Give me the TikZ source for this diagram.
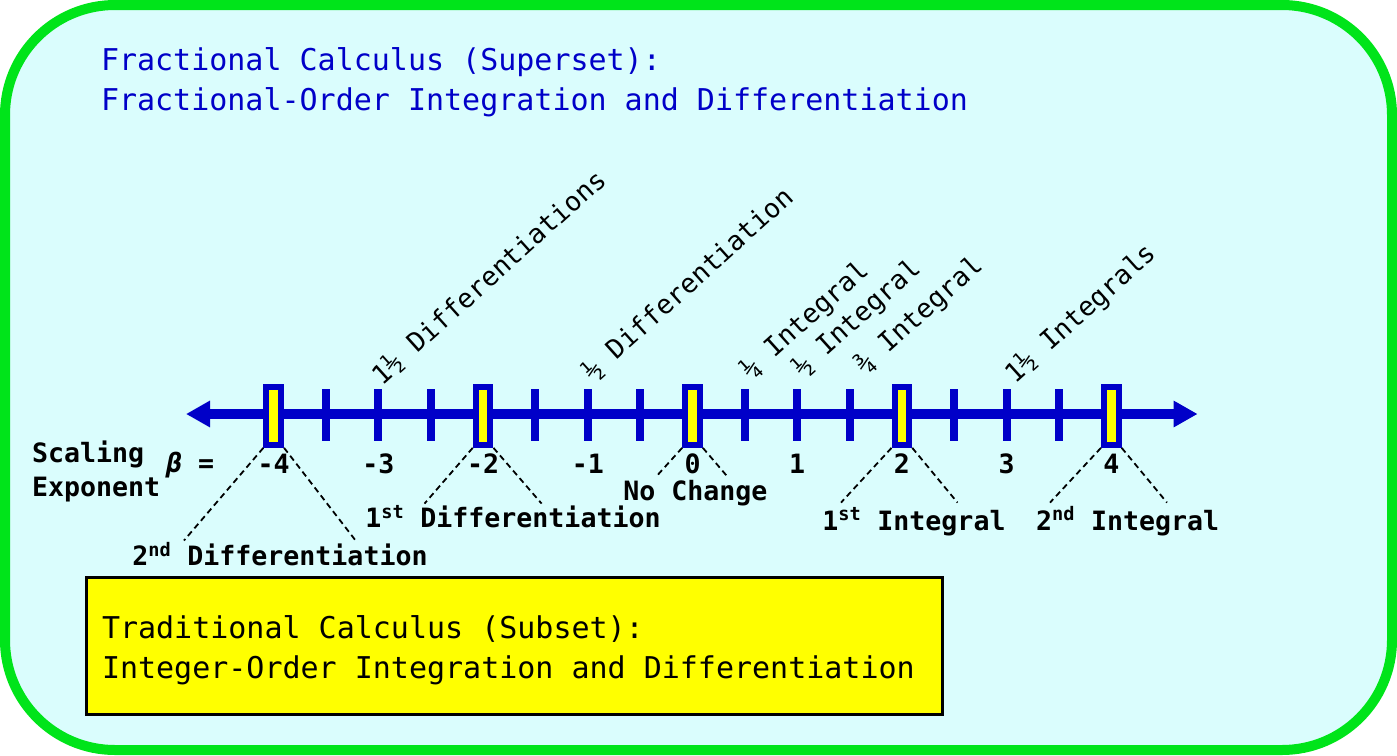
\documentclass[tikz,border=0pt]{standalone}
\usepackage{fontspec}
\setmainfont{DejaVu Sans Mono}
\usetikzlibrary{arrows.meta,positioning}
\definecolor{rim}{HTML}{00E41A}
\definecolor{paper}{HTML}{DAFDFD}
\definecolor{axisblue}{HTML}{0000C8}
\definecolor{marker}{HTML}{FFFF00}
\tikzset{
  every node/.style={inner sep=0pt,outer sep=0pt,text=black},
  frame/.style={draw=rim,line width=10pt,fill=paper,rounded corners=110pt},
  heading/.style={font=\fontsize{30}{40}\selectfont,text=axisblue,anchor=base west},
  boxtext/.style={font=\fontsize{30}{40}\selectfont,anchor=base west},
  axisline/.style={draw=axisblue,line width=10pt,arrows={Triangle[length=24pt,width=25pt]-Triangle[length=24pt,width=25pt]}},
  tickmark/.style={draw=axisblue,line width=8pt},
  intbox/.style={draw=axisblue,line width=6pt,fill=marker,minimum width=14.7pt,minimum height=57.7pt,outer sep=3pt},
  num/.style={font=\fontsize{26.6}{30}\bfseries\selectfont,anchor=base},
  order/.style={font=\fontsize{26.6}{30}\bfseries\selectfont,anchor=base},
  slant/.style={font=\fontsize{26.6}{30}\selectfont,rotate=42,anchor=base west},
  lead/.style={draw=black,line width=1.8pt,dash pattern=on 6pt off 4pt},
  subset/.style={draw=black,line width=3pt,fill=marker,minimum width=856pt,minimum height=137pt}
}

\begin{document}
\begin{tikzpicture}[x=1pt,y=-1pt]
  \useasboundingbox (0,0) rectangle (1397,755);
  \draw[frame] (5,5) rectangle (1392,750);

  \node[heading] (title1) at (101,70.7) {Fractional Calculus (Superset):};
  \node[heading] (title2) at (101,110.7) {Fractional-Order Integration and Differentiation};

  % number line
  \coordinate (axl) at (186,414);
  \coordinate (axr) at (1197.6,414);
  \draw[axisline] (axl) -- (axr);
  \foreach \v in {-3.5,-3,-2.5,-1.5,-1,-0.5,0.5,1,1.5,2.5,3,3.5}
    \draw[tickmark] ({692.5+104.7*\v},389) -- ({692.5+104.7*\v},440.6);
  \foreach \v/\n in {-4/bm4,-2/bm2,0/bz,2/bp2,4/bp4}
    \node[intbox] (\n) at ({692.5+104.7*\v},416) {};

  \foreach \v [count=\i] in {-4,...,4}
    \node[num] (num\i) at ({692.5+104.7*\v},473.3) {\v};
  \node[order,anchor=base west] (scale1) at (32,462) {Scaling};
  \node[order,anchor=base west] (scale2) at (32,496) {Exponent};
  \node[order,anchor=base west] (beta) at (166,472.5) {{\itshape β} =};

  % fractional orders
  \node[slant] (f1) at (382,386) {1½ Differentiations};
  \node[slant] (f2) at (593,382) {½ Differentiation};
  \node[slant] (f3) at (751,380) {¼ Integral};
  \node[slant] (f4) at (803,378) {½ Integral};
  \node[slant] (f5) at (865,375) {¾ Integral};
  \node[slant] (f6) at (1015,384) {1½ Integrals};

  % integer orders
  \coordinate (l4a) at (184,540.5);   \coordinate (l4b) at (355.6,540.5);
  \coordinate (l2a) at (424.5,503.6); \coordinate (l2b) at (541.6,503.6);
  \coordinate (l0a) at (657,475.7);   \coordinate (l0b) at (727.5,476.7);
  \coordinate (r2a) at (841,502.6);   \coordinate (r2b) at (957.5,502.6);
  \coordinate (r4a) at (1050,502.6);  \coordinate (r4b) at (1167,502.6);
  \draw[lead] (bm4.south west) -- (l4a);  \draw[lead] (bm4.south east) -- (l4b);
  \draw[lead] (bm2.south west) -- (l2a);  \draw[lead] (bm2.south east) -- (l2b);
  \draw[lead] (bz.south west) -- (l0a);   \draw[lead] (bz.south east) -- (l0b);
  \draw[lead] (bp2.south west) -- (r2a);  \draw[lead] (bp2.south east) -- (r2b);
  \draw[lead] (bp4.south west) -- (r4a);  \draw[lead] (bp4.south east) -- (r4b);

  \node[order] (o1) at (280,565.6) {2\textsuperscript{nd} Differentiation};
  \node[order] (o2) at (513,527.7) {1\textsuperscript{st} Differentiation};
  \node[order] (o3) at (695.4,500.9) {No Change};
  \node[order] (o4) at (914,530) {1\textsuperscript{st} Integral};
  \node[order] (o5) at (1127.7,530) {2\textsuperscript{nd} Integral};

  \node[subset] (trad) at (514.5,646) {};
  \node[boxtext] (trad1) at (102,638) {Traditional Calculus (Subset):};
  \node[boxtext] (trad2) at (102,678) {Integer-Order Integration and Differentiation};
\end{tikzpicture}
\end{document}
